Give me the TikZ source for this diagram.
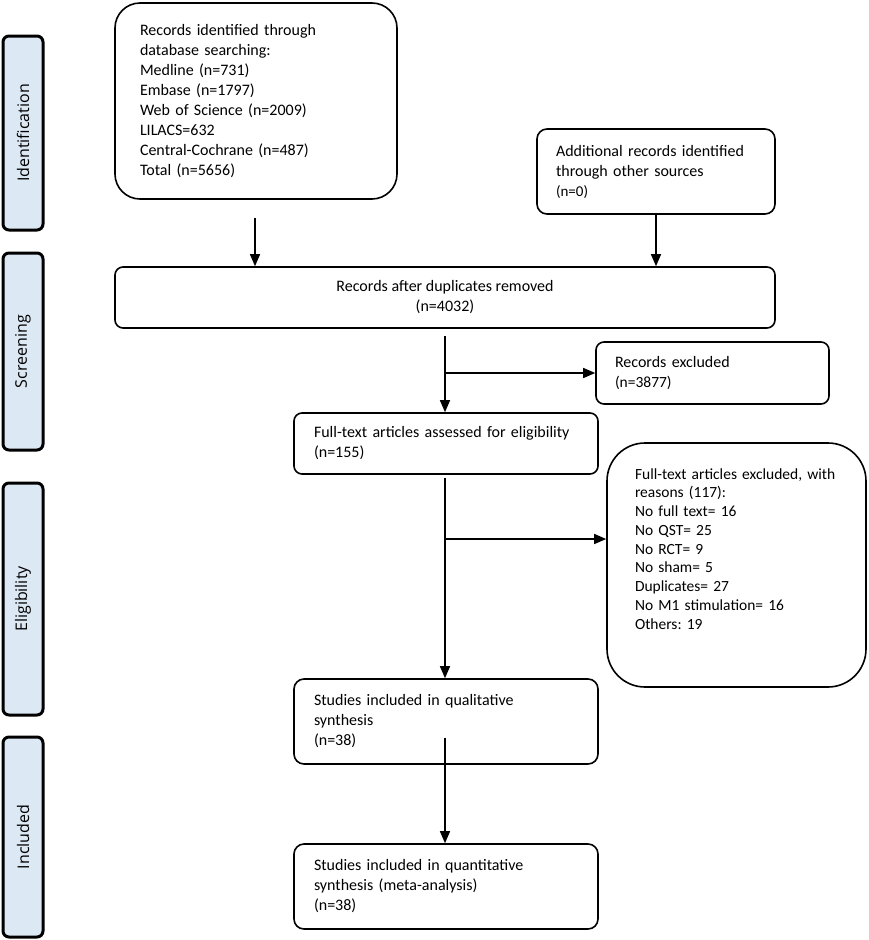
\documentclass[tikz,border=0pt]{standalone}
\usepackage{fontspec}
\setmainfont{Carlito}
\newfontfamily\sidefont{Open Sans}
\usetikzlibrary{arrows.meta,calc}
\definecolor{barblue}{RGB}{221,232,245}
\frenchspacing
\begin{document}
\begin{tikzpicture}[x=1pt,y=-1pt,
  box/.style={draw=black,line width=1.6pt,font=\fontsize{16}{20}\selectfont,align=left,inner ysep=0pt},
  cbox/.style={draw=black,line width=1.6pt,font=\fontsize{16}{20}\selectfont,align=center,inner sep=0pt},
  bar/.style={draw=black,line width=3pt,fill=barblue,rounded corners=6pt,minimum width=40pt,inner sep=0pt},
  barlabel/.style={font=\sidefont\fontsize{16}{19}\selectfont,rotate=90},
  arr/.style={line width=1.3pt,-{Triangle[length=12pt,width=10pt]}},
  ln/.style={line width=1.3pt}]
\useasboundingbox (0,0) rectangle (868,940);
% side bars
\node[bar,minimum height=194pt] (bid) at (23,133) {};
\node[barlabel] at (bid.center) {Identification};
\node[bar,minimum height=197pt] (bsc) at (23,351.5) {};
\node[barlabel] at (bsc.center) {Screening};
\node[bar,minimum height=232pt] (bel) at (23,599) {};
\node[barlabel] at (bel.center) {Eligibility};
\node[bar,minimum height=200pt] (bin) at (23,837) {};
\node[barlabel] at (bin.center) {Included};
% boxes
\node[box,rounded corners=25pt,minimum width=282pt,minimum height=196pt,text width=232pt,inner xsep=25pt] (db) at (256,101)
 {Records identified through\\ database searching:\\ Medline (n=731)\\ Embase (n=1797)\\ Web of Science (n=2009)\\ LILACS=632\\ Central-Cochrane (n=487)\\ Total (n=5656)};
\node[box,rounded corners=10pt,minimum width=238pt,minimum height=85pt,text width=200pt,inner xsep=19pt] (add) at (656,171.5)
 {Additional records identified\\ through other sources\\ \fontsize{15}{20}\selectfont (n=0)};
\node[cbox,rounded corners=8pt,minimum width=660pt,minimum height=61pt] (dup) at (445,297.5)
 {Records after duplicates removed\\ (n=4032)};
\node[box,rounded corners=8pt,minimum width=233pt,minimum height=62pt,text width=195pt,inner xsep=19pt] (excl) at (712.5,373)
 {Records excluded\\ \fontsize{15.5}{20}\selectfont (n=3877)};
\node[box,rounded corners=8pt,minimum width=304pt,minimum height=61pt,text width=264pt,inner xsep=20pt] (full) at (446,443.5)
 {Full-text articles assessed for eligibility\\ (n=155)};
\node[box,rounded corners=38pt,minimum width=259pt,minimum height=244pt,text width=203pt,inner xsep=28pt,font=\fontsize{15.5}{18.75}\selectfont] (ftex) at (736.5,565)
 {Full-text articles excluded, with\\ reasons (117):\\ No full text= 16\\ No QST= 25\\ No RCT= 9\\ No sham= 5\\ Duplicates= 27\\ No M1 stimulation= 16\\ Others: 19\\[14pt]\mbox{}};
\node[box,rounded corners=10pt,minimum width=304pt,minimum height=85pt,text width=264pt,inner xsep=20pt] (qual) at (446,721.5)
 {Studies included in qualitative\\ synthesis\\ (n=38)};
\node[box,rounded corners=10pt,minimum width=304pt,minimum height=85pt,text width=264pt,inner xsep=20pt] (quant) at (446,886.5)
 {Studies included in quantitative\\ synthesis (meta-analysis)\\ (n=38)};
% connectors
\draw[arr] ([xshift=-1pt,yshift=-18pt]db.south) -- ([xshift=-1pt]db.south |- dup.north);
\draw[arr] (add.south) -- (add.south |- dup.north);
\draw[arr] ([yshift=-7pt]dup.south) -- (dup.south |- full.north);
\draw[arr] (dup.south |- excl.west) -- (excl.west);
\draw[arr] ([xshift=-1pt,yshift=-3pt]full.south) -- ([xshift=-1pt]full.south |- qual.north);
\coordinate (b2) at ([xshift=-1pt]full.south |- 0,539);
\draw[arr] (b2) -- (ftex.west |- b2);
\draw[arr] ([xshift=-1pt,yshift=27pt]qual.south) -- ([xshift=-1pt]qual.south |- quant.north);
\end{tikzpicture}
\end{document}
